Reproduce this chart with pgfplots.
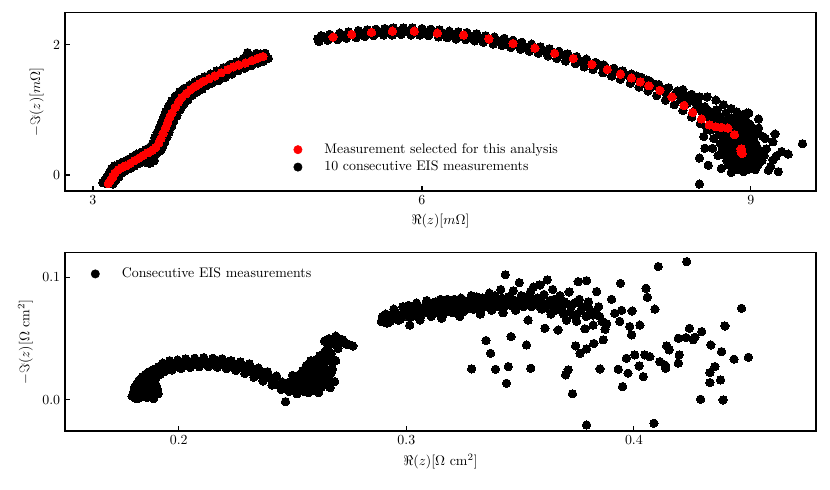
\documentclass[border=0pt]{standalone}
\usepackage{pgfplots}
\pgfplotsset{compat=1.18}

\pgfplotsset{
  eis/.style={
    scale only axis, width=540.7pt, height=128.2pt,
    tick align=inside, tick pos=left, major tick length=3.5pt,
    axis line style={line width=0.8pt},
    every tick/.style={line width=0.8pt, black},
    legend cell align=left,
    legend style={draw=none, fill=none, inner sep=0pt},
  },
  dot/.style={only marks, mark=*, mark size=3pt,
    mark options={line width=0pt, draw=#1, fill=#1}},
  dotlegend/.style={legend image code/.code={
    \path[draw=none] (0,0) rectangle (0.9cm,0);
    \fill[#1] (0.3cm,0) circle (3pt);}},
}

% top panel: selected measurement (red) and the 10 runs (black)
\pgfplotstableread{
x y
3.14 -0.13
3.16 -0.08
3.18 -0.03
3.20 0.03
3.23 0.08
3.26 0.11
3.30 0.14
3.34 0.18
3.38 0.22
3.42 0.26
3.46 0.30
3.50 0.34
3.54 0.38
3.57 0.42
3.60 0.49
3.62 0.56
3.64 0.64
3.66 0.72
3.68 0.80
3.70 0.88
3.72 0.95
3.75 1.04
3.78 1.12
3.81 1.19
3.85 1.25
3.89 1.31
3.93 1.36
3.97 1.40
4.01 1.44
4.06 1.48
4.11 1.52
4.17 1.57
4.23 1.62
4.28 1.66
4.33 1.69
4.39 1.72
4.45 1.76
4.50 1.79
4.55 1.82
5.19 2.12
5.36 2.16
5.54 2.19
5.73 2.21
5.93 2.21
6.14 2.18
6.38 2.15
6.61 2.09
6.83 2.02
7.03 1.95
7.21 1.87
7.38 1.79
7.55 1.70
7.69 1.62
7.81 1.55
7.91 1.49
7.99 1.43
8.07 1.37
8.17 1.30
8.28 1.20
8.39 1.07
8.47 0.96
8.55 0.86
8.62 0.77
8.68 0.74
8.73 0.73
8.79 0.72
8.85 0.62
8.91 0.40
8.92 0.33
8.91 0.36
}\selected

\pgfplotstableread{
x y
3.09 -0.12
3.11 -0.10
3.12 -0.13
3.13 -0.06
3.15 -0.04
3.17 0.00
3.19 0.05
3.19 0.09
3.21 0.08
3.24 0.12
3.27 0.13
3.28 0.09
3.29 0.16
3.32 0.17
3.34 0.13
3.35 0.20
3.37 0.23
3.38 0.17
3.40 0.25
3.43 0.29
3.44 0.22
3.45 0.26
3.47 0.22
3.49 0.19
3.50 0.24
3.52 0.28
3.52 0.18
3.55 0.30
3.56 0.22
3.54 0.26
3.53 0.36
3.56 0.43
3.58 0.52
3.60 0.60
3.62 0.47
3.62 0.69
3.64 0.78
3.65 0.59
3.66 0.86
3.68 0.94
3.68 0.74
3.70 1.00
3.72 1.07
3.74 0.98
3.75 1.14
3.78 1.20
3.82 1.26
3.83 1.20
3.86 1.31
3.90 1.36
3.92 1.31
3.94 1.40
3.99 1.45
4.03 1.41
4.04 1.50
4.09 1.54
4.13 1.50
4.14 1.58
4.19 1.62
4.24 1.67
4.26 1.58
4.30 1.72
4.35 1.64
4.36 1.76
4.40 1.68
4.41 1.88
4.43 1.80
4.48 1.84
4.53 1.86
4.57 1.87
4.58 1.82
3.11 -0.07
3.13 -0.02
3.15 0.04
3.17 0.10
3.20 0.14
3.24 0.17
3.28 0.20
3.32 0.24
3.36 0.28
3.40 0.32
3.44 0.35
3.48 0.39
3.52 0.43
3.545 0.49
3.565 0.57
3.585 0.65
3.605 0.73
3.625 0.81
3.645 0.89
3.665 0.97
3.69 1.06
3.72 1.14
3.75 1.21
3.79 1.28
3.83 1.33
3.88 1.38
3.93 1.43
3.97 1.47
4.02 1.51
4.07 1.55
4.13 1.60
4.19 1.65
4.25 1.70
4.31 1.74
4.37 1.79
4.43 1.83
4.49 1.87
3.18 -0.14
3.205 -0.09
3.235 -0.03
3.265 0.03
3.30 0.07
3.34 0.10
3.38 0.14
3.42 0.18
3.46 0.22
3.50 0.26
3.54 0.29
3.58 0.33
3.615 0.37
3.635 0.43
3.655 0.50
3.675 0.58
3.695 0.66
3.715 0.74
3.735 0.82
3.765 0.91
3.795 1.00
3.825 1.08
3.865 1.15
3.905 1.22
3.945 1.27
3.995 1.32
4.035 1.37
4.085 1.41
4.145 1.45
4.205 1.50
4.265 1.55
4.325 1.60
4.385 1.64
4.445 1.68
4.505 1.72
4.555 1.75
4.60 1.79
5.05 2.09
5.09 2.11
5.12 2.10
5.15 2.13
5.22 2.11
5.27 2.13
5.31 2.14
5.40 2.15
5.44 2.17
5.50 2.17
5.57 2.18
5.61 2.19
5.67 2.20
5.70 2.23
5.77 2.20
5.81 2.22
5.86 2.20
5.90 2.23
5.97 2.20
6.02 2.21
6.07 2.19
6.11 2.20
6.18 2.19
6.22 2.17
6.27 2.16
6.32 2.17
6.36 2.13
6.43 2.14
6.47 2.12
6.52 2.11
6.57 2.10
6.63 2.07
6.68 2.07
6.73 2.05
6.78 2.04
6.86 2.00
6.90 1.99
6.95 1.96
6.99 1.97
7.06 1.93
7.10 1.91
7.14 1.89
7.18 1.90
7.25 1.85
7.30 1.83
7.34 1.80
7.42 1.78
7.47 1.75
7.51 1.72
7.58 1.68
7.62 1.69
7.66 1.64
7.73 1.61
7.77 1.59
7.84 1.54
7.88 1.53
7.94 1.48
7.96 1.52
8.03 1.41
8.05 1.46
8.10 1.36
8.13 1.39
8.20 1.31
8.22 1.27
8.25 1.34
8.31 1.23
8.33 1.29
8.38 1.31
8.36 1.15
8.40 1.22
8.42 1.10
8.44 1.18
8.48 1.13
8.53 1.20
8.50 1.02
8.52 1.08
8.56 0.95
8.58 1.05
8.60 1.20
8.60 0.90
8.62 0.98
8.65 0.84
8.67 0.93
8.68 1.15
8.69 1.00
8.70 0.80
8.72 0.88
8.75 1.08
8.75 0.80
8.77 0.95
8.80 0.85
8.82 1.02
8.83 0.78
8.86 0.70
8.87 0.97
8.88 0.95
8.90 0.85
8.92 0.92
5.08 2.14
5.16 2.16
5.25 2.18
5.33 2.20
5.42 2.22
5.50 2.23
5.58 2.24
5.66 2.25
5.74 2.26
5.83 2.26
5.91 2.26
6.00 2.25
6.08 2.24
6.16 2.23
6.25 2.21
6.33 2.20
6.41 2.19
6.50 2.17
6.58 2.14
6.66 2.12
6.75 2.10
6.83 2.07
6.91 2.04
7.00 2.01
7.08 1.97
7.16 1.94
7.25 1.90
7.33 1.86
7.41 1.82
7.50 1.78
7.58 1.73
7.66 1.69
7.75 1.64
7.83 1.60
7.91 1.55
8.00 1.50
8.08 1.44
8.16 1.39
8.24 1.33
8.32 1.27
8.46 1.24
5.06 2.05
5.14 2.07
5.23 2.08
5.31 2.10
5.40 2.11
5.48 2.13
5.56 2.14
5.65 2.15
5.73 2.15
5.81 2.16
5.90 2.15
5.98 2.15
6.06 2.14
6.15 2.12
6.23 2.11
6.31 2.09
6.40 2.08
6.48 2.06
6.56 2.04
6.65 2.01
6.73 1.99
6.81 1.96
6.90 1.93
6.98 1.90
7.06 1.87
7.15 1.83
7.23 1.79
7.31 1.75
7.40 1.71
7.48 1.66
7.56 1.62
7.65 1.57
7.73 1.52
7.81 1.47
7.90 1.41
7.98 1.35
8.06 1.29
8.14 1.22
8.22 1.15
8.30 1.08
8.38 0.99
8.46 0.89
8.54 0.79
8.60 0.71
8.82 0.66
8.78 0.64
8.74 0.58
8.76 0.50
8.80 0.55
8.84 0.48
8.87 0.55
8.90 0.60
8.93 0.52
8.96 0.46
8.88 0.42
8.94 0.28
8.97 0.35
9.00 0.40
9.02 0.30
9.04 0.20
8.99 0.20
8.95 0.14
8.90 0.18
8.86 0.25
8.82 0.30
8.79 0.36
8.78 0.22
8.84 0.12
8.88 0.08
8.93 0.05
9.00 0.10
9.06 0.14
9.10 0.22
9.05 0.45
8.95 0.75
9.00 0.68
8.98 0.95
8.96 0.95
9.07 0.86
9.06 0.67
9.07 0.72
9.13 0.56
9.11 0.59
9.22 0.63
9.20 0.51
9.14 0.40
9.28 0.36
9.34 0.32
9.23 0.29
9.20 0.23
9.16 0.07
9.25 0.05
9.18 0.13
9.47 0.48
8.53 -0.14
8.57 0.59
8.58 0.41
8.65 0.41
8.53 0.26
8.61 0.15
8.73 0.10
8.82 0.04
8.70 0.30
8.71 0.62
8.63 0.69
8.66 0.56
8.76 0.72
8.80 0.70
8.84 0.68
8.88 0.66
8.92 0.70
8.96 0.65
9.00 0.58
9.03 0.52
8.98 0.52
8.94 0.58
8.90 0.50
8.86 0.45
8.82 0.42
8.78 0.45
8.74 0.40
8.72 0.48
8.80 0.38
8.84 0.35
8.90 0.30
8.86 0.35
8.92 0.22
8.96 0.24
9.00 0.25
9.04 0.35
9.06 0.28
9.08 0.38
9.03 0.42
8.98 0.30
8.88 0.15
8.84 0.18
8.80 0.15
8.76 0.30
9.02 0.15
9.08 0.20
9.12 0.30
8.93 0.12
8.97 0.08
9.04 0.08
8.91 0.80
8.86 0.82
8.82 0.88
8.95 0.85
8.99 0.78
9.02 0.72
9.04 0.62
8.70 0.70
8.66 0.72
8.72 0.76
}\runs

% bottom panel
\pgfplotstableread{
x y
0.1795 0.0030
0.1800 0.0060
0.1805 0.0100
0.1810 0.0015
0.1815 0.0130
0.1820 0.0050
0.1825 0.0160
0.1830 0.0090
0.1835 0.0030
0.1840 0.0190
0.1845 0.0120
0.1850 0.0060
0.1855 0.0210
0.1860 0.0020
0.1865 0.0150
0.1870 0.0230
0.1875 0.0080
0.1880 0.0040
0.1885 0.0110
0.1890 0.0250
0.1895 0.0060
0.1900 0.0180
0.1905 0.0090
0.1910 0.0270
0.1920 0.0210
0.1930 0.0280
0.1945 0.0240
0.1960 0.0290
0.1975 0.0260
0.1990 0.0300
0.2005 0.0275
0.2020 0.0310
0.2035 0.0285
0.2050 0.0300
0.2065 0.0315
0.2080 0.0290
0.2095 0.0305
0.2110 0.0320
0.2125 0.0295
0.2140 0.0310
0.2155 0.0290
0.2170 0.0320
0.2185 0.0300
0.2200 0.0280
0.2215 0.0310
0.2230 0.0270
0.2245 0.0295
0.2260 0.0260
0.2275 0.0285
0.2290 0.0245
0.2305 0.0270
0.2320 0.0225
0.2335 0.0250
0.2350 0.0205
0.2365 0.0230
0.2380 0.0180
0.2395 0.0200
0.2410 0.0150
0.2425 0.0175
0.2440 0.0120
0.2455 0.0145
0.2469 -0.0014
0.2470 0.0110
0.2480 0.0140
0.2490 0.0090
0.2500 0.0130
0.2505 0.0170
0.2510 0.0080
0.2520 0.0150
0.2525 0.0200
0.2530 0.0110
0.2540 0.0180
0.2545 0.0240
0.2550 0.0070
0.2555 0.0140
0.2560 0.0210
0.2565 0.0270
0.2570 0.0100
0.2575 0.0180
0.2580 0.0240
0.2585 0.0300
0.2590 0.0130
0.2595 0.0080
0.2600 0.0210
0.2605 0.0330
0.2610 0.0160
0.2615 0.0270
0.2620 0.0360
0.2625 0.0100
0.2630 0.0200
0.2635 0.0300
0.2640 0.0390
0.2645 0.0150
0.2650 0.0250
0.2655 0.0430
0.2660 0.0340
0.2665 0.0460
0.2670 0.0220
0.2675 0.0300
0.2680 0.0480
0.2690 0.0450
0.2700 0.0500
0.2710 0.0470
0.2720 0.0490
0.2735 0.0460
0.2750 0.0450
0.2765 0.0440
0.1930 0.0300
0.1960 0.0320
0.1995 0.0325
0.2030 0.0335
0.2070 0.0340
0.2110 0.0345
0.2150 0.0340
0.2190 0.0335
0.2230 0.0320
0.2270 0.0310
0.2310 0.0295
0.2350 0.0260
0.2390 0.0230
0.2430 0.0195
0.1900 0.0200
0.1935 0.0230
0.1970 0.0245
0.2010 0.0255
0.2050 0.0265
0.2090 0.0270
0.2130 0.0270
0.2170 0.0265
0.2210 0.0255
0.2250 0.0240
0.2290 0.0215
0.2330 0.0185
0.2370 0.0155
0.2410 0.0120
0.2450 0.0085
0.2485 0.0070
0.1820 0.0010
0.1830 0.0120
0.1845 0.0040
0.1860 0.0080
0.1870 0.0130
0.1880 0.0190
0.1890 0.0010
0.1900 0.0120
0.1910 0.0050
0.1880 0.0160
0.2500 0.0200
0.2510 0.0120
0.2520 0.0050
0.2530 0.0160
0.2540 0.0100
0.2550 0.0200
0.2560 0.0130
0.2570 0.0060
0.2580 0.0150
0.2590 0.0250
0.2600 0.0110
0.2610 0.0220
0.2615 0.0060
0.2620 0.0280
0.2630 0.0120
0.2640 0.0240
0.2650 0.0330
0.2655 0.0180
0.2665 0.0100
0.2670 0.0380
0.2675 0.0250
0.2685 0.0150
0.2690 0.0320
0.2700 0.0420
0.2620 0.0180
0.2580 0.0320
0.2560 0.0280
0.2640 0.0480
0.2660 0.0500
0.2690 0.0520
0.2725 0.0480
0.2740 0.0450
0.2890 0.0640
0.2900 0.0670
0.2915 0.0625
0.2925 0.0690
0.2940 0.0660
0.2950 0.0720
0.2965 0.0650
0.2980 0.0700
0.2990 0.0740
0.3005 0.0680
0.3015 0.0610
0.3020 0.0720
0.3035 0.0760
0.3050 0.0700
0.3060 0.0650
0.3070 0.0740
0.3085 0.0780
0.3095 0.0710
0.3110 0.0680
0.3120 0.0750
0.3130 0.0800
0.3145 0.0730
0.3155 0.0666
0.3160 0.0690
0.3170 0.0770
0.3180 0.0820
0.3190 0.0750
0.3205 0.0710
0.3215 0.0790
0.3225 0.0760
0.3235 0.0680
0.3240 0.0830
0.3250 0.0720
0.3260 0.0800
0.3270 0.0770
0.3285 0.0850
0.3295 0.0740
0.3300 0.0810
0.3315 0.0780
0.3325 0.0700
0.3335 0.0830
0.3345 0.0760
0.3355 0.0800
0.3365 0.0870
0.3375 0.0730
0.3385 0.0790
0.3395 0.0820
0.3405 0.0760
0.3415 0.0900
0.3425 0.0710
0.3435 0.1020
0.3440 0.0800
0.3450 0.0840
0.3460 0.0770
0.3470 0.0890
0.3480 0.0730
0.3490 0.0810
0.3496 0.0956
0.3505 0.0850
0.3515 0.0760
0.3525 0.0800
0.3535 0.0650
0.3545 0.0880
0.3558 0.0920
0.3565 0.0780
0.3575 0.0830
0.3587 0.0937
0.3595 0.0740
0.3605 0.0860
0.3609 0.0584
0.3619 0.0978
0.3625 0.0790
0.3635 0.0700
0.3643 0.0900
0.3650 0.0820
0.3660 0.0760
0.3667 0.0570
0.3675 0.0850
0.3685 0.0720
0.3695 0.0800
0.3704 0.0650
0.3715 0.0880
0.3725 0.0760
0.3735 0.0690
0.3748 0.0640
0.3755 0.0964
0.3760 0.0820
0.3770 0.0740
0.3785 0.0580
0.3792 0.0972
0.3800 0.0800
0.3810 0.0700
0.3820 0.0693
0.3821 0.0610
0.3836 0.0883
0.3845 0.0760
0.2895 0.0680
0.2910 0.0700
0.2930 0.0640
0.2945 0.0740
0.2960 0.0690
0.2975 0.0660
0.2985 0.0760
0.3000 0.0720
0.3010 0.0770
0.3025 0.0680
0.3040 0.0730
0.3045 0.0790
0.3055 0.0740
0.3065 0.0690
0.3080 0.0720
0.3090 0.0810
0.3100 0.0750
0.3115 0.0790
0.3125 0.0710
0.3140 0.0770
0.3150 0.0820
0.3165 0.0740
0.3175 0.0790
0.3185 0.0720
0.3200 0.0770
0.3210 0.0820
0.3220 0.0740
0.3230 0.0790
0.3245 0.0760
0.3255 0.0810
0.3265 0.0740
0.3280 0.0790
0.3290 0.0770
0.3305 0.0750
0.3310 0.0840
0.3320 0.0790
0.3330 0.0740
0.3340 0.0800
0.3350 0.0770
0.3360 0.0820
0.3370 0.0780
0.3380 0.0750
0.3390 0.0850
0.3400 0.0800
0.3410 0.0780
0.3420 0.0830
0.3430 0.0760
0.3445 0.0810
0.3455 0.0790
0.3465 0.0820
0.3475 0.0780
0.3485 0.0760
0.3500 0.0800
0.3510 0.0820
0.3520 0.0770
0.3530 0.0840
0.3540 0.0790
0.3550 0.0760
0.3560 0.0820
0.3570 0.0800
0.3580 0.0770
0.3590 0.0830
0.3600 0.0790
0.3615 0.0750
0.3630 0.0810
0.3640 0.0780
0.3655 0.0730
0.3670 0.0800
0.3680 0.0770
0.3690 0.0700
0.3710 0.0780
0.3720 0.0720
0.3740 0.0790
0.3750 0.0700
0.3775 0.0760
0.3790 0.0680
0.3805 0.0740
0.3830 0.0720
0.3850 0.0680
0.3860 0.0640
0.3880 0.0620
0.3287 0.0253
0.3350 0.0484
0.3370 0.0380
0.3392 0.0250
0.3440 0.0136
0.3448 0.0272
0.3460 0.0516
0.3528 0.0448
0.3547 0.0258
0.3700 0.0204
0.3711 0.0245
0.3730 0.0050
0.3744 0.0440
0.3763 0.0380
0.3792 -0.0204
0.3792 0.0416
0.3851 0.0253
0.3824 0.0460
0.3865 0.0490
0.3873 0.0576
0.3902 0.0820
0.3916 0.0706
0.3931 0.0250
0.3941 0.0950
0.3946 0.0730
0.3938 0.0640
0.3950 0.0109
0.3967 0.0340
0.3974 0.0218
0.3982 0.0598
0.3992 0.0725
0.3990 0.0530
0.4004 0.0367
0.4026 0.0610
0.4023 0.0277
0.4041 0.0190
0.4053 0.0910
0.4059 0.0837
0.4048 0.0367
0.4070 0.0353
0.4088 -0.0190
0.4092 0.0740
0.4107 0.1087
0.4114 0.0312
0.4136 0.0285
0.4140 0.0258
0.4144 0.0440
0.4155 0.0408
0.4195 0.0503
0.4199 0.0367
0.4195 0.0300
0.4229 0.0508
0.4232 0.1127
0.4244 0.0584
0.4261 0.0490
0.4268 0.0511
0.4293 0.0006
0.4298 0.0557
0.4334 0.0223
0.4334 0.0141
0.4338 0.0448
0.4356 0.0272
0.4381 0.0163
0.4385 0.0394
0.4392 0.0000
0.4400 0.0603
0.4440 0.0332
0.4473 0.0747
0.4503 0.0348
}\cell

\begin{document}
\begin{tikzpicture}
\path[use as bounding box] (-46.8pt,-215.3pt) rectangle (550.8pt,137.5pt);

\begin{axis}[eis,
  at={(0,0)}, anchor=south west,
  xmin=2.745, xmax=9.593, ymin=-0.246, ymax=2.49,
  xtick={3,6,9}, ytick={0,2},
  xlabel={$\Re(z)[m\Omega]$},
  ylabel={$-\Im(z)[m\Omega]$},
  legend style={at={(0.294,0.183)}, anchor=west},
]
\addlegendimage{dotlegend=red}
\addlegendentry{Measurement selected for this analysis}
\addlegendimage{dotlegend=black}
\addlegendentry{10 consecutive EIS measurements}
\addplot[dot=black, forget plot] table {\runs};
\addplot[dot=red, forget plot] table {\selected};
\end{axis}

\begin{axis}[eis,
  at={(0,-172.8pt)}, anchor=south west,
  xmin=0.150, xmax=0.480, ymin=-0.0253, ymax=0.1198,
  xtick={0.2,0.3,0.4}, ytick={0,0.1},
  yticklabel style={/pgf/number format/fixed,
    /pgf/number format/precision=1, /pgf/number format/fixed zerofill},
  xticklabel style={/pgf/number format/fixed,
    /pgf/number format/precision=1},
  xlabel={$\Re(z)[\Omega\ \mathrm{cm}^2]$},
  ylabel={$-\Im(z)[\Omega\ \mathrm{cm}^2]$},
  legend style={at={(0.0242,0.882)}, anchor=west},
]
\addlegendimage{dotlegend=black}
\addlegendentry{Consecutive EIS measurements}
\addplot[dot=black, forget plot] table {\cell};
\end{axis}
\end{tikzpicture}
\end{document}
